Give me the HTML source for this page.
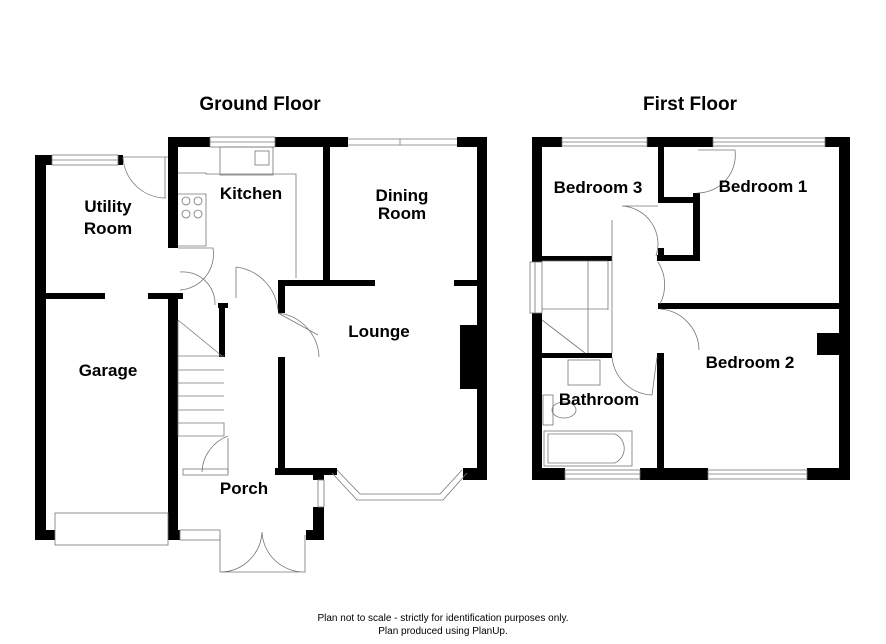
<!DOCTYPE html>
<html><head><meta charset="utf-8"><style>
body{margin:0;background:#fff}
svg{display:block}
text{font-family:"Liberation Sans",Arial,sans-serif;font-weight:bold;fill:#000}
.t{fill:none;stroke:#777;stroke-width:0.8}
.w{fill:#000}
</style></head><body>
<svg width="886" height="644" viewBox="0 0 886 644">
<text x="260" y="110" font-size="19" text-anchor="middle">Ground Floor</text>
<text x="690" y="110" font-size="19" text-anchor="middle">First Floor</text>

<g class="w">
<rect x="35" y="155" width="11" height="385"/>
<rect x="35" y="155" width="17" height="10"/>
<rect x="118" y="155" width="5" height="10"/>
<rect x="168" y="137" width="42" height="10"/>
<rect x="275" y="137" width="73" height="10"/>
<rect x="457" y="137" width="30" height="10"/>
<rect x="477" y="137" width="10" height="343"/>
<rect x="168" y="137" width="10" height="111"/>
<rect x="323" y="147" width="7" height="133"/>
<rect x="278" y="280" width="97" height="6"/>
<rect x="454" y="280" width="23" height="6"/>
<rect x="278" y="280" width="7" height="33"/>
<rect x="278" y="357" width="7" height="116"/>
<rect x="275" y="468" width="62" height="7"/>
<rect x="463" y="468" width="24" height="12"/>
<rect x="460" y="325" width="17" height="64"/>
<rect x="46" y="293" width="59" height="6"/>
<rect x="148" y="293" width="35" height="6"/>
<rect x="168" y="296" width="10" height="244"/>
<rect x="35" y="530" width="20" height="10"/>
<rect x="168" y="530" width="12" height="10"/>
<rect x="219" y="303" width="6" height="54"/>
<rect x="218" y="303" width="10" height="5"/>
<rect x="313" y="475" width="11" height="5"/>
<rect x="313" y="507" width="11" height="33"/>
<rect x="306" y="530" width="18" height="10"/>
</g>
<g class="t">
<rect x="52" y="155" width="66" height="10"/><line x1="52" y1="160" x2="118" y2="160"/>
<rect x="210" y="137" width="65" height="10"/><line x1="210" y1="142" x2="275" y2="142"/>
<line x1="348" y1="139" x2="457" y2="139"/><line x1="348" y1="145" x2="457" y2="145"/><line x1="400" y1="139" x2="400" y2="145"/>
<line x1="123" y1="157" x2="168" y2="157"/><line x1="165" y1="157" x2="165" y2="198"/><path d="M123 157 A43 43 0 0 0 166 198"/>
<rect x="55" y="513" width="113" height="32"/>
<path d="M178 248 L213 248 A36 36 0 0 1 180 290"/>
<path d="M180 272 A32 32 0 0 1 215 305"/>
<path d="M236 267 L236 298 M236 267 A48 48 0 0 1 278 310"/>
<path d="M278 313 L318 335 M278 313 A46 46 0 0 1 319 357"/>
<path d="M178 173 L206 173 L206 174 L296 174 L296 278"/>
<rect x="220" y="147" width="53" height="28"/>
<path d="M178 194 L206 194 L206 246 L178 246"/>
<circle cx="186" cy="201" r="4"/><circle cx="198" cy="201" r="4"/><circle cx="186" cy="214" r="4"/><circle cx="198" cy="214" r="4"/>
<rect x="255" y="151" width="14" height="14"/>
<path d="M178 320 L222 356 M178 356 L224 356 M178 370 L224 370 M178 383 L224 383 M178 396 L224 396 M178 410 L224 410 M178 423 L224 423 L224 436 L178 436 L178 320"/>
<path d="M228 438 L228 473 M228 436 A40 40 0 0 0 202 472"/>
<rect x="183" y="469" width="45" height="6"/>
<rect x="180" y="530" width="40" height="10"/>
<rect x="318" y="480" width="6" height="27"/>
<path d="M220 535 L220 572 L262 572 M262 532 A42 42 0 0 1 220 572 M305 535 L305 572 L262 572 M262 532 A42 42 0 0 0 305 572"/>
<path d="M332 473 L357 500 L443 500 L467 473 M337 470 L360 494 L440 494 L462 470"/>
</g>

<text x="108" y="212" font-size="17" text-anchor="middle">Utility</text>
<text x="108" y="234" font-size="17" text-anchor="middle">Room</text>
<text x="251" y="199" font-size="17" text-anchor="middle">Kitchen</text>
<text x="402" y="201" font-size="17" text-anchor="middle">Dining</text>
<text x="402" y="219" font-size="17" text-anchor="middle">Room</text>
<text x="379" y="337" font-size="17" text-anchor="middle">Lounge</text>
<text x="108" y="376" font-size="17" text-anchor="middle">Garage</text>
<text x="244" y="494" font-size="17" text-anchor="middle">Porch</text>

<g class="w">
<rect x="532" y="137" width="10" height="125"/>
<rect x="532" y="313" width="10" height="167"/>
<rect x="532" y="137" width="30" height="10"/>
<rect x="647" y="137" width="66" height="10"/>
<rect x="825" y="137" width="25" height="10"/>
<rect x="839" y="137" width="11" height="343"/>
<rect x="532" y="468" width="33" height="12"/>
<rect x="640" y="468" width="68" height="12"/>
<rect x="807" y="468" width="43" height="12"/>
<rect x="658" y="147" width="6" height="56"/>
<rect x="658" y="197" width="42" height="6"/>
<rect x="693" y="193" width="7" height="68"/>
<rect x="657" y="255" width="43" height="6"/>
<rect x="658" y="248" width="6" height="12"/>
<rect x="542" y="256" width="70" height="5"/>
<rect x="658" y="303" width="182" height="6"/>
<rect x="817" y="333" width="23" height="22"/>
<rect x="542" y="353" width="70" height="5"/>
<rect x="657" y="353" width="7" height="117"/>
</g>
<g class="t">
<rect x="562" y="138" width="85" height="8"/><line x1="562" y1="142" x2="647" y2="142"/>
<rect x="713" y="138" width="112" height="8"/><line x1="713" y1="142" x2="825" y2="142"/>
<rect x="565" y="470" width="75" height="9"/><line x1="565" y1="474" x2="640" y2="474"/>
<rect x="708" y="470" width="99" height="9"/><line x1="708" y1="474" x2="807" y2="474"/>
<rect x="530" y="262" width="12" height="51"/><line x1="535" y1="262" x2="535" y2="313"/>
<path d="M698 150 L735 150 A38 38 0 0 1 697 193"/>
<path d="M622 206 L658 206 M622 206 A38 38 0 0 1 656 256"/>
<path d="M612 220 L612 353"/>
<path d="M658 262 A42 42 0 0 1 660 304 M660 309 A42 42 0 0 1 699 350"/>
<path d="M612 357 A42 42 0 0 0 652 395 L657 357"/>
<path d="M542 261 L608 261 L608 310 M588 261 L588 310 M542 309 L608 309"/>
<path d="M542 320 L585 353 M588 310 L588 353"/>
<rect x="568" y="360" width="32" height="25"/>
<rect x="543" y="395" width="10" height="30"/><ellipse cx="564" cy="410" rx="12" ry="8"/>
<rect x="544" y="431" width="88" height="35"/>
<path d="M548 434 L615 434 A16 16 0 0 1 615 463 L548 463 Z"/>
</g>
<text x="598" y="193" font-size="17" text-anchor="middle">Bedroom 3</text>
<text x="763" y="192" font-size="17" text-anchor="middle">Bedroom 1</text>
<text x="750" y="368" font-size="17" text-anchor="middle">Bedroom 2</text>
<text x="599" y="405" font-size="17" text-anchor="middle">Bathroom</text>

<text x="443" y="621" font-size="10" text-anchor="middle" style="font-weight:normal">Plan not to scale - strictly for identification purposes only.</text>
<text x="443" y="634" font-size="10" text-anchor="middle" style="font-weight:normal">Plan produced using PlanUp.</text>
</svg>
</body></html>
